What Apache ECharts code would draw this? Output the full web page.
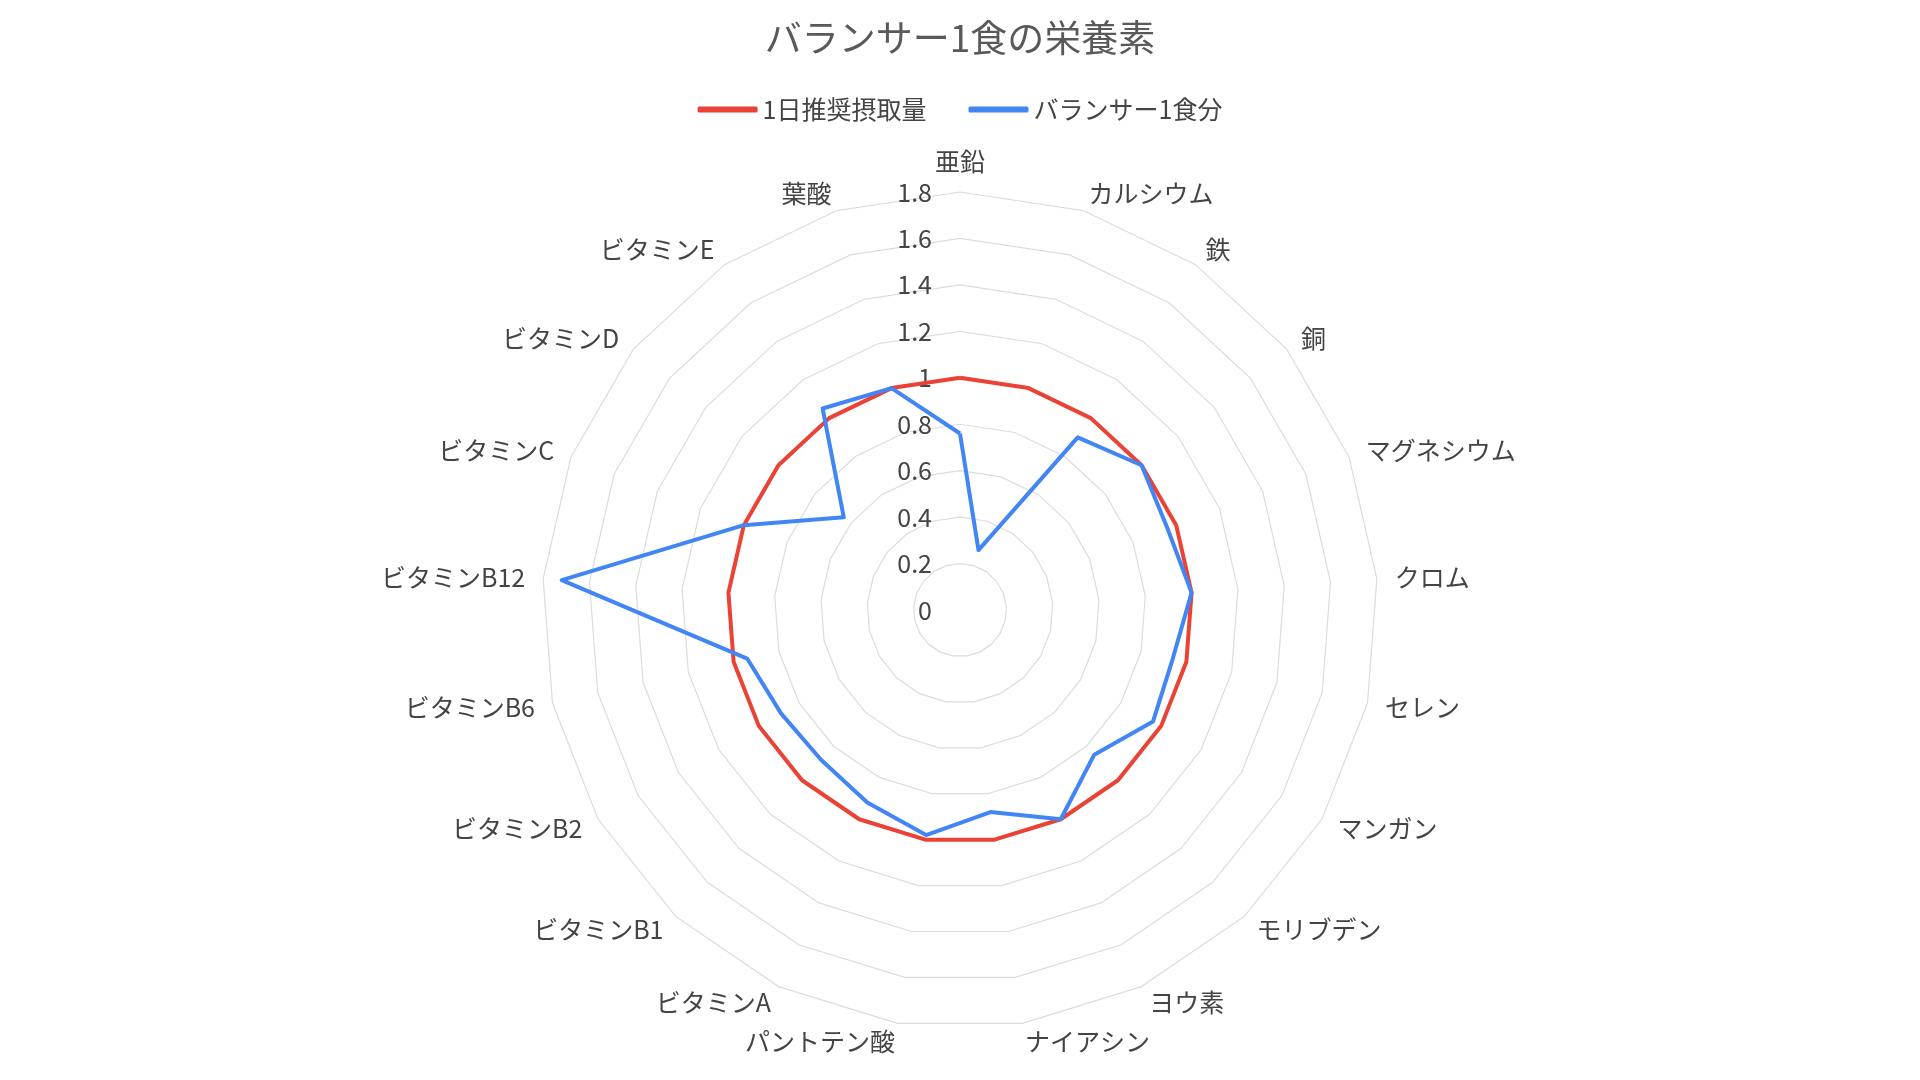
<!DOCTYPE html>
<html>
<head>
<meta charset="utf-8">
<script src="https://cdn.jsdelivr.net/npm/echarts@6/dist/echarts.min.js"></script>
<style>html,body{margin:0;padding:0;background:#fff}#c{width:1920px;height:1080px}</style>
</head>
<body>
<div id="c"></div>
<script>
// ---- data ----
var categories = ['亜鉛','カルシウム','鉄','銅','マグネシウム','クロム','セレン','マンガン','モリブデン','ヨウ素','ナイアシン','パントテン酸','ビタミンA','ビタミンB1','ビタミンB2','ビタミンB6','ビタミンB12','ビタミンC','ビタミンD','ビタミンE','葉酸'];
var recommended = [1,1,1,1,1,1,1,1,1,1,1,1,1,1,1,1,1,1,1,1,1];
var balancer = [0.76,0.27,0.90,1.0,0.96,1.0,0.94,0.96,0.85,1.0,0.88,0.98,0.92,0.88,0.89,0.94,1.72,1.0,0.64,1.05,1.0];
var seriesNames = ['1日推奨摂取量','バランサー1食分'];
var axisMin = 0, axisMax = 1.8, axisStep = 0.2;

// ECharts radar runs counter-clockwise; reorder (keep first) so categories run clockwise
function clockwise(arr){ return [arr[0]].concat(arr.slice(1).reverse()); }

var FONT = '"Noto Sans CJK JP", "Noto Sans", sans-serif';
var indicators = clockwise(categories).map(function(n, i){
  var o = { name: n, min: axisMin, max: axisMax };
  if (i === 0) o.axisLabel = { show: true };
  return o;
});

var chart = echarts.init(document.getElementById('c'));
chart.setOption({
  backgroundColor: '#ffffff',
  animation: false,
  title: {
    text: 'バランサー1食の栄養素',
    left: 'center', top: 14,
    textStyle: { fontFamily: FONT, fontSize: 37, fontWeight: 'normal', color: '#595959' }
  },
  legend: {
    top: 92, left: 'center',
    itemWidth: 60, itemHeight: 6, itemGap: 42,
    icon: 'roundRect',
    textStyle: { fontFamily: FONT, fontSize: 25, color: '#444' },
    data: seriesNames
  },
  radar: {
    center: ['50%', 610],
    radius: 418,
    startAngle: 90,
    shape: 'polygon',
    splitNumber: Math.round((axisMax - axisMin) / axisStep),
    indicator: indicators,
    axisName: { fontFamily: FONT, fontSize: 25, color: '#444' },
    nameGap: 18,
    axisLine: { show: false },
    axisTick: { show: false },
    axisLabel: { show: false, fontFamily: FONT, fontSize: 25, color: '#444', margin: 28 },
    splitLine: { lineStyle: { color: '#dcdcdc', width: 1.2 } },
    splitArea: { show: false }
  },
  series: [{
    type: 'radar',
    symbol: 'none',
    data: [
      { name: seriesNames[0], value: clockwise(recommended),
        lineStyle: { color: '#EA4335', width: 4 }, itemStyle: { color: '#EA4335' } },
      { name: seriesNames[1], value: clockwise(balancer),
        lineStyle: { color: '#4285F4', width: 4 }, itemStyle: { color: '#4285F4' } }
    ]
  }]
});
</script>
</body>
</html>
